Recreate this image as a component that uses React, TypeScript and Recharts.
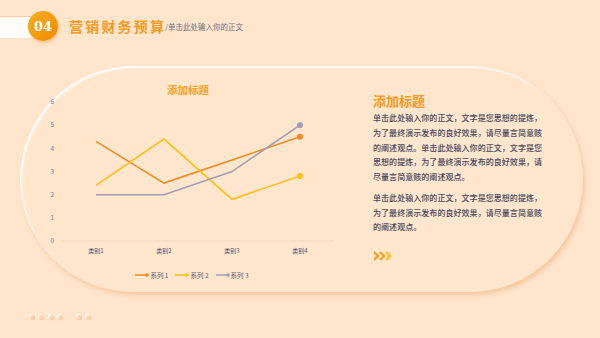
import React from "react";
import { LineChart, Line, XAxis, YAxis, Legend } from "recharts";

const categories = ["类别1", "类别2", "类别3", "类别4"];
const series1 = [4.3, 2.5, 3.5, 4.5];
const series2 = [2.4, 4.4, 1.8, 2.8];
const series3 = [2, 2, 3, 5];
const yTicks = [0, 1, 2, 3, 4, 5, 6];
const seriesNames = ["系列 1", "系列 2", "系列 3"];
const seriesColors = ["#EE8A1F", "#FFBE12", "#A29CB2"];

const data = categories.map((c, i) => ({
  name: c,
  s1: series1[i],
  s2: series2[i],
  s3: series3[i],
}));

const para1 = [
  "单击此处输入你的正文，文字是您思想的提炼，",
  "为了最终演示发布的良好效果，请尽量言简意赅",
  "的阐述观点。单击此处输入你的正文，文字是您",
  "思想的提炼，为了最终演示发布的良好效果，请",
  "尽量言简意赅的阐述观点。",
];
const para2 = [
  "单击此处输入你的正文，文字是您思想的提炼，",
  "为了最终演示发布的良好效果，请尽量言简意赅",
  "的阐述观点。",
];

const FONT = "'Noto Sans CJK SC', 'Noto Sans', sans-serif";

const makeDot = (color: string) => (props: any) => {
  const { cx, cy, index } = props;
  if (index !== categories.length - 1) return <g key={`d${index}`} />;
  return <circle key={`d${index}`} cx={cx} cy={cy} r={2.6} fill={color} stroke={color} />;
};

const LegendContent = () => (
  <div style={{ height: 20, display: "flex", justifyContent: "center", alignItems: "center", gap: 7, fontFamily: FONT, fontSize: 6.5, color: "#5a5a6e", paddingLeft: 10 }}>
    {seriesNames.map((n, i) => (
      <div key={n} style={{ display: "flex", alignItems: "center" }}>
        <svg width={15} height={6}>
          <line x1={0} y1={3} x2={12} y2={3} stroke={seriesColors[i]} strokeWidth={1.5} />
          <circle cx={12} cy={3} r={1.8} fill={seriesColors[i]} />
        </svg>
        <span>{n}</span>
      </div>
    ))}
  </div>
);

export default function App() {
  return (
    <div style={{ position: "fixed", left: 0, top: 0, width: 600, height: 338, background: "#FEE5CB", overflow: "hidden", fontFamily: FONT }}>
      {/* header */}
      <div style={{ position: "absolute", left: 0, top: 16, width: 36, height: 21, background: "#FFFDFB", borderTop: "1.5px solid #F7C9A2", borderBottom: "1px solid #FBE0C8" }} />
      <div style={{ position: "absolute", left: 28, top: 11, width: 30, height: 30, borderRadius: "50%", background: "linear-gradient(135deg, #F9AE1C, #F08A00)", boxShadow: "1px 2px 3px rgba(220,130,40,0.35)", color: "#fff", fontWeight: 700, fontSize: 13, display: "flex", alignItems: "center", justifyContent: "center", fontFamily: "'DejaVu Serif', serif" }}>04</div>
      <div style={{ position: "absolute", left: 69, top: 16, fontSize: 14, fontWeight: 700, color: "#F29A22", letterSpacing: 2.2, whiteSpace: "nowrap", lineHeight: "20px" }}>营销财务预算</div>
      <div style={{ position: "absolute", left: 165, top: 21, fontSize: 7.5, color: "#6E6E82", whiteSpace: "nowrap", lineHeight: "12px" }}>/单击此处输入你的正文</div>

      {/* panel */}
      <div style={{ position: "absolute", left: 20, top: 66, width: 563, height: 226, borderRadius: 113, background: "#FFE6CD", boxShadow: "inset 2px 2px 2px rgba(255,255,255,0.85), 2px 3px 4px rgba(235,165,115,0.45)" }} />

      {/* chart title */}
      <div style={{ position: "absolute", left: 138, top: 82, width: 100, textAlign: "center", fontSize: 10.5, fontWeight: 700, color: "#F7A21E", lineHeight: "16px" }}>添加标题</div>

      <div style={{ position: "absolute", left: 40, top: 80 }}>
        <LineChart width={300} height={205} data={data} margin={{ top: 22, right: 6, bottom: 0, left: 0 }}>
          <XAxis dataKey="name" height={24} padding={{ left: 34, right: 34 }} axisLine={{ stroke: "#F2D6BC", strokeWidth: 1 }} tickLine={false} tick={{ fontSize: 6, fill: "#50506a", fontFamily: FONT }} interval={0} />
          <YAxis width={22} domain={[0, 6]} ticks={yTicks} axisLine={false} tickLine={false} tick={{ fontSize: 6.5, fill: "#7A7A88", fontFamily: FONT }} />
          <Legend verticalAlign="bottom" height={20} content={LegendContent} />
          <Line dataKey="s1" name={seriesNames[0]} stroke={seriesColors[0]} strokeWidth={1.5} dot={makeDot(seriesColors[0])} isAnimationActive={false} />
          <Line dataKey="s2" name={seriesNames[1]} stroke={seriesColors[1]} strokeWidth={1.5} dot={makeDot(seriesColors[1])} isAnimationActive={false} />
          <Line dataKey="s3" name={seriesNames[2]} stroke={seriesColors[2]} strokeWidth={1.5} dot={makeDot(seriesColors[2])} isAnimationActive={false} />
        </LineChart>
      </div>

      {/* right text */}
      <div style={{ position: "absolute", left: 373, top: 92, fontSize: 13, fontWeight: 700, color: "#F29A22", lineHeight: "18px", whiteSpace: "nowrap" }}>添加标题</div>
      {para1.map((t, i) => (
        <div key={"p1" + i} style={{ position: "absolute", left: 373, top: 112 + i * 14.8, fontSize: 8, fontWeight: 500, color: "#46465E", lineHeight: "12px", whiteSpace: "nowrap", letterSpacing: 0.05 }}>{t}</div>
      ))}
      {para2.map((t, i) => (
        <div key={"p2" + i} style={{ position: "absolute", left: 373, top: 192 + i * 14.6, fontSize: 8, fontWeight: 500, color: "#46465E", lineHeight: "12px", whiteSpace: "nowrap", letterSpacing: 0.05 }}>{t}</div>
      ))}
      <svg style={{ position: "absolute", left: 374, top: 251 }} width={22} height={10}>
        {[0, 6, 12].map((x, i) => (
          <polyline key={i} points={`${x},1 ${x + 4},5 ${x},9`} fill="none" stroke={i === 2 ? "#FFC21A" : "#F7A21E"} strokeWidth={2.4} />
        ))}
      </svg>

      {/* decorative dots */}
      {[31, 40, 50, 59, 78, 87].map((x, i) => (
        <div key={i} style={{ position: "absolute", left: x - 2.5, top: 314, width: 5, height: 5, borderRadius: "50%", background: "#FBD7B4", boxShadow: "inset 1px 1px 1px rgba(255,255,255,0.9), 1px 1px 1px rgba(230,160,110,0.5)" }} />
      ))}
    </div>
  );
}
